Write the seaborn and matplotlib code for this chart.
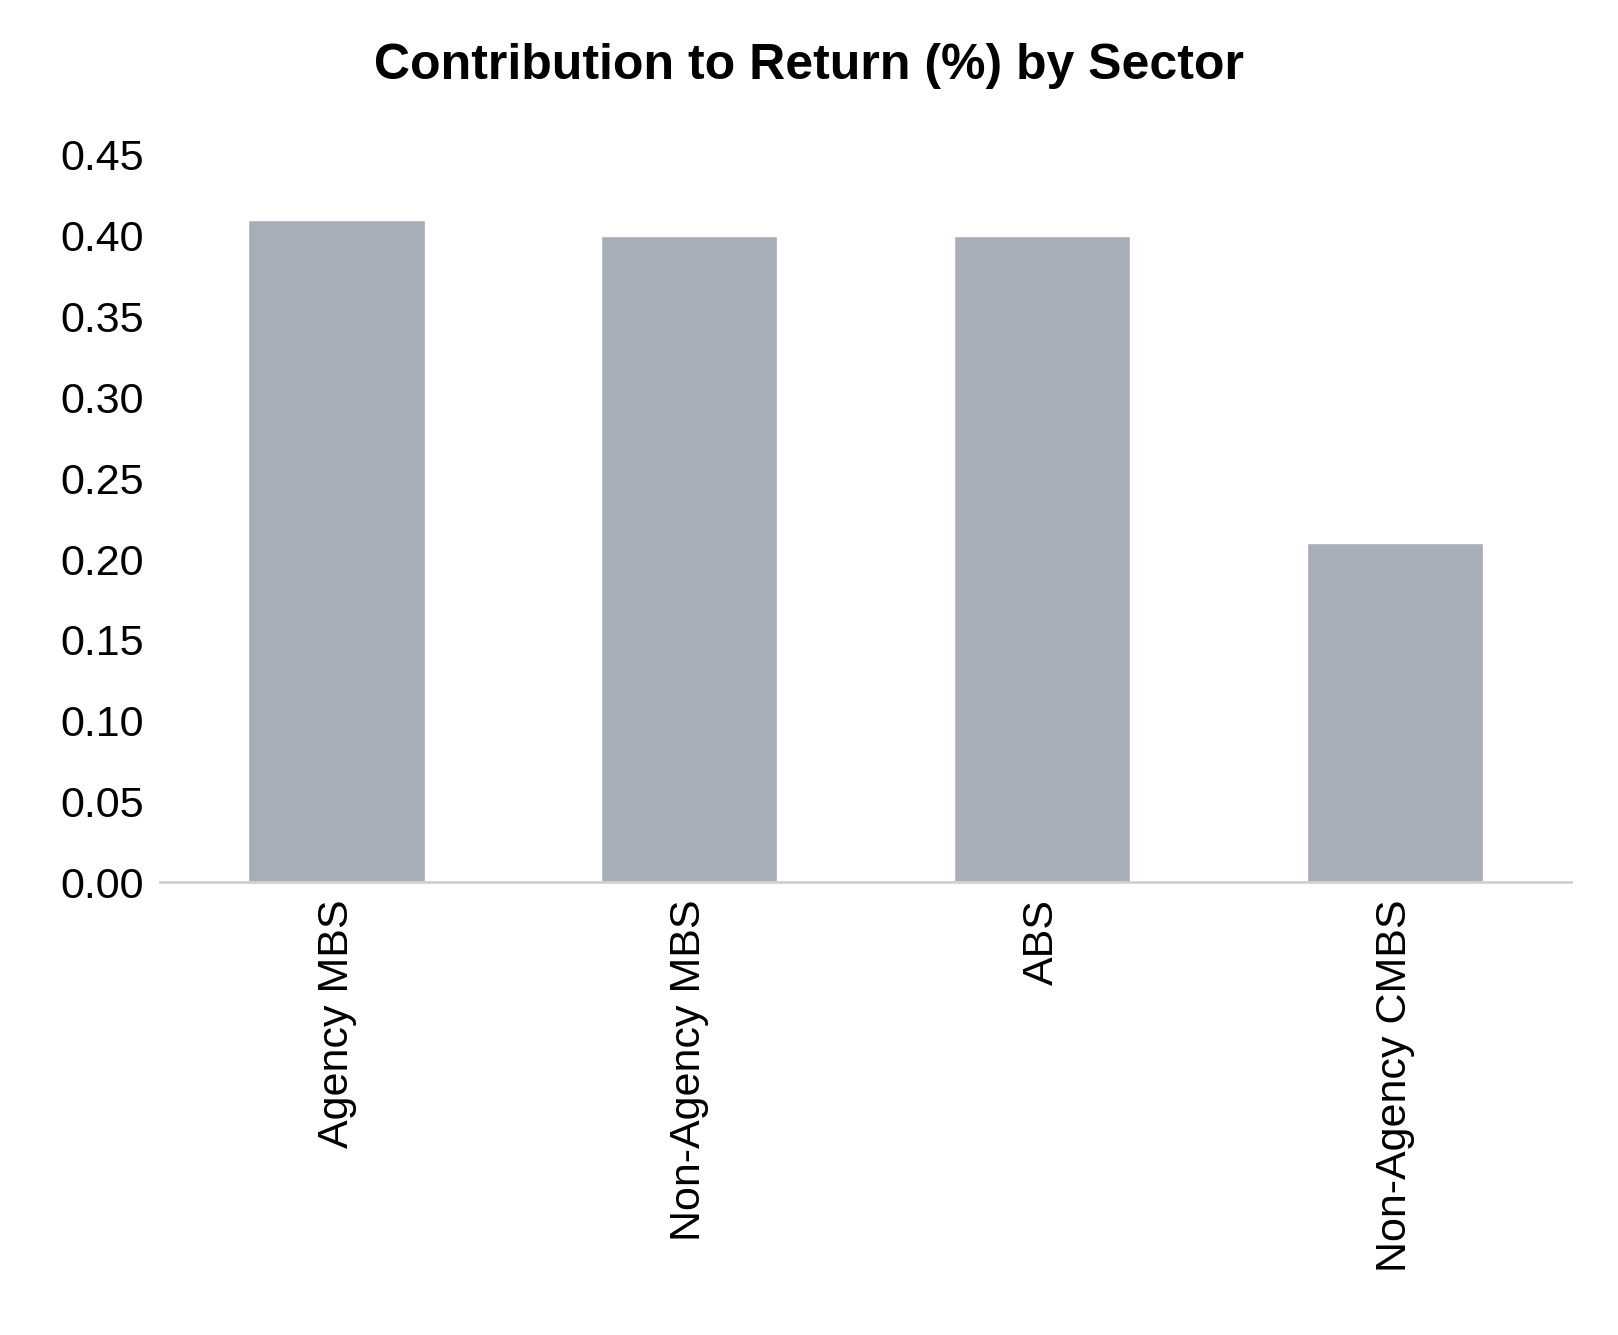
import matplotlib
matplotlib.use("Agg")
import matplotlib.pyplot as plt
import pandas as pd
import seaborn as sns

sectors = ["Agency MBS", "Non-Agency MBS", "ABS", "Non-Agency CMBS"]
contribution = [0.41, 0.40, 0.40, 0.21]
yticks = [0.00, 0.05, 0.10, 0.15, 0.20, 0.25, 0.30, 0.35, 0.40, 0.45]

sns.set_style("white")
plt.rcParams["font.family"] = ["Liberation Sans", "DejaVu Sans"]
plt.rcParams["text.color"] = "black"
plt.rcParams["xtick.color"] = "black"
plt.rcParams["ytick.color"] = "black"

df = pd.DataFrame({"sector": sectors, "value": contribution})

fig = plt.figure(figsize=(16.18, 13.35), dpi=100)
ax = fig.add_axes([0.099, 0.339, 0.872, 0.545])
sns.barplot(data=df, x="sector", y="value", color="#A8AEB8", saturation=1, width=0.5, ax=ax)

ax.set_ylim(0, 0.45)
ax.set_yticks(yticks)
ax.set_yticklabels([f"{t:.2f}" for t in yticks], fontsize=31)
ax.set_xticks(range(len(sectors)))
ax.set_xticklabels(sectors, rotation=90, fontsize=31)
ax.tick_params(axis="both", length=0, pad=12)
ax.set_xlabel("")
ax.set_ylabel("")
for s in ["top", "right", "left"]:
    ax.spines[s].set_visible(False)
ax.spines["bottom"].set_color("#D0D0D0")
ax.spines["bottom"].set_linewidth(2)
ax.set_xlim(-0.5, len(sectors) - 0.5)

fig.suptitle("Contribution to Return (%) by Sector", fontsize=36, fontweight="bold", y=0.968)
fig.savefig("out.png", dpi=100)
